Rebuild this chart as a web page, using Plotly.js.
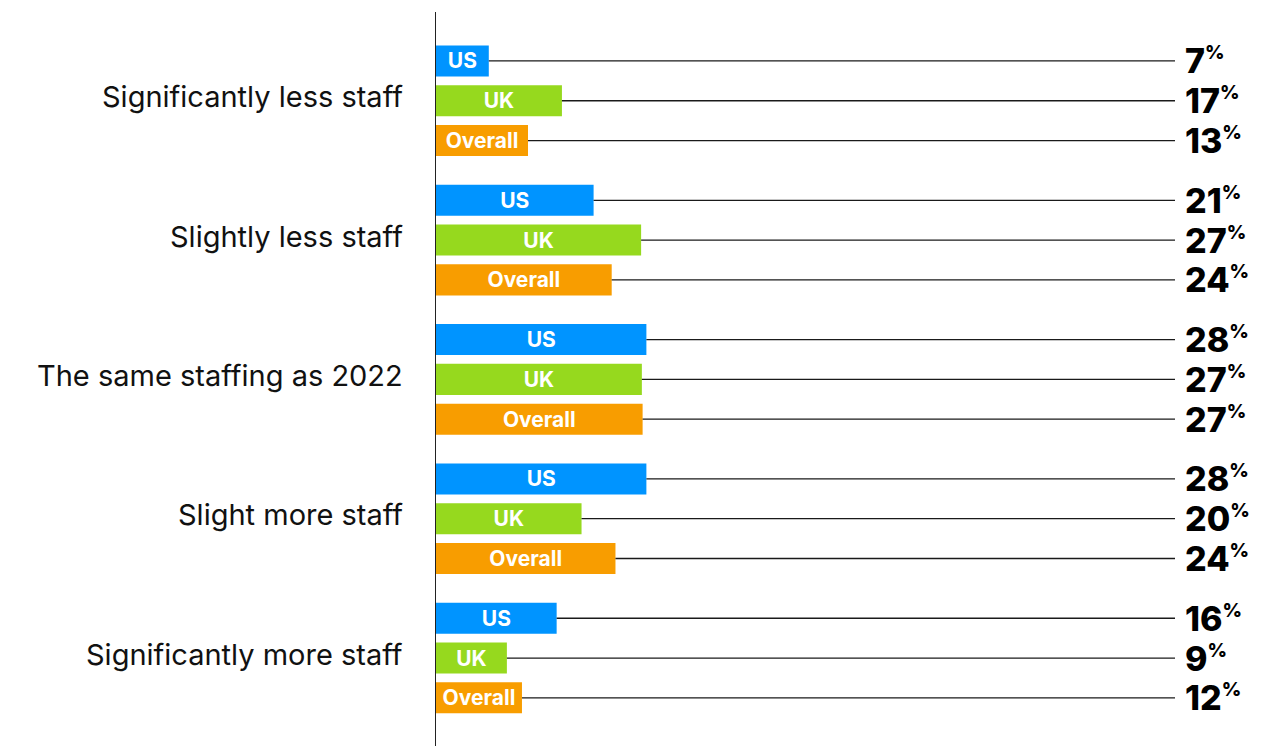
<!DOCTYPE html>
<html>
<head>
<meta charset="utf-8">
<script src="https://cdn.plot.ly/plotly-3.0.1.min.js"></script>
<style>html,body{margin:0;padding:0;background:#fff;}#chart{width:1278px;height:746px;}</style>
</head>
<body>
<div id="chart"></div>
<script>
const categories = ['Significantly less staff', 'Slightly less staff', 'The same staffing as 2022', 'Slight more staff', 'Significantly more staff'];
const seriesNames = ['US', 'UK', 'Overall'];
const usValues = [7.0, 20.9, 27.9, 27.9, 16.0];
const ukValues = [16.7, 27.2, 27.3, 19.3, 9.4];
const overallValues = [12.2, 23.3, 27.4, 23.8, 11.4];
const usLabels = [7, 21, 28, 28, 16];
const ukLabels = [17, 27, 27, 20, 9];
const overallLabels = [13, 24, 27, 24, 12];
const colors = ['#0094FF', '#96D91E', '#F89D00'];

const FONT = 'Inter, "Noto Sans", sans-serif';
const GROUP_STEP = 3.5;
const X_MAX = 98.0;

const allValues = [usValues, ukValues, overallValues];
const allLabels = [usLabels, ukLabels, overallLabels];

function rowPos(g, s) { return g * GROUP_STEP + s; }

const traces = [];
allValues.forEach((vals, s) => {
  traces.push({
    type: 'bar', orientation: 'h',
    x: vals,
    y: vals.map((v, g) => rowPos(g, s)),
    width: 0.78,
    marker: {color: colors[s]},
    text: vals.map(() => seriesNames[s]),
    textposition: 'inside',
    insidetextanchor: 'middle',
    constraintext: 'none',
    textfont: {family: FONT, size: 21, color: '#ffffff', weight: 700},
    hoverinfo: 'skip',
    showlegend: false,
    cliponaxis: false
  });
});

// connector lines from bar end to the value column
const lx = [], ly = [];
allValues.forEach((vals, s) => {
  vals.forEach((v, g) => {
    lx.push(v, X_MAX, null);
    ly.push(rowPos(g, s), rowPos(g, s), null);
  });
});
traces.push({
  type: 'scatter', mode: 'lines', x: lx, y: ly,
  line: {color: '#1a1a1a', width: 1.3},
  hoverinfo: 'skip', showlegend: false, cliponaxis: false
});

const annotations = [];
allLabels.forEach((labs, s) => {
  labs.forEach((lab, g) => {
    annotations.push({
      xref: 'paper', yref: 'y', x: 1, y: rowPos(g, s),
      xanchor: 'left', yanchor: 'middle', xshift: 8, yshift: 0,
      text: lab + "<sup><span style='font-size:19px'>%</span></sup>",
      showarrow: false,
      font: {family: FONT, size: 34, color: '#000000', weight: 800}
    });
  });
});
categories.forEach((c, g) => {
  annotations.push({
    xref: 'paper', yref: 'y', x: 0, y: rowPos(g, 1),
    xanchor: 'right', yanchor: 'middle', xshift: -31, yshift: 4,
    text: c, showarrow: false,
    font: {family: FONT, size: 29, color: '#111111'}
  });
});

const layout = {
  width: 1278, height: 746,
  margin: {l: 436, r: 103, t: 12, b: 0, pad: 0},
  paper_bgcolor: '#ffffff', plot_bgcolor: '#ffffff',
  barmode: 'overlay',
  xaxis: {range: [0, X_MAX], showgrid: false, zeroline: false, showline: false, showticklabels: false, ticks: '', fixedrange: true},
  yaxis: {
    range: [17.21, -1.23], showgrid: false, zeroline: false,
    showline: true, linecolor: '#222222', linewidth: 1.5,
    showticklabels: false, ticks: '',
    fixedrange: true
  },
  annotations: annotations,
  showlegend: false
};

Plotly.newPlot('chart', traces, layout, {displayModeBar: false, staticPlot: true});
</script>
</body>
</html>
